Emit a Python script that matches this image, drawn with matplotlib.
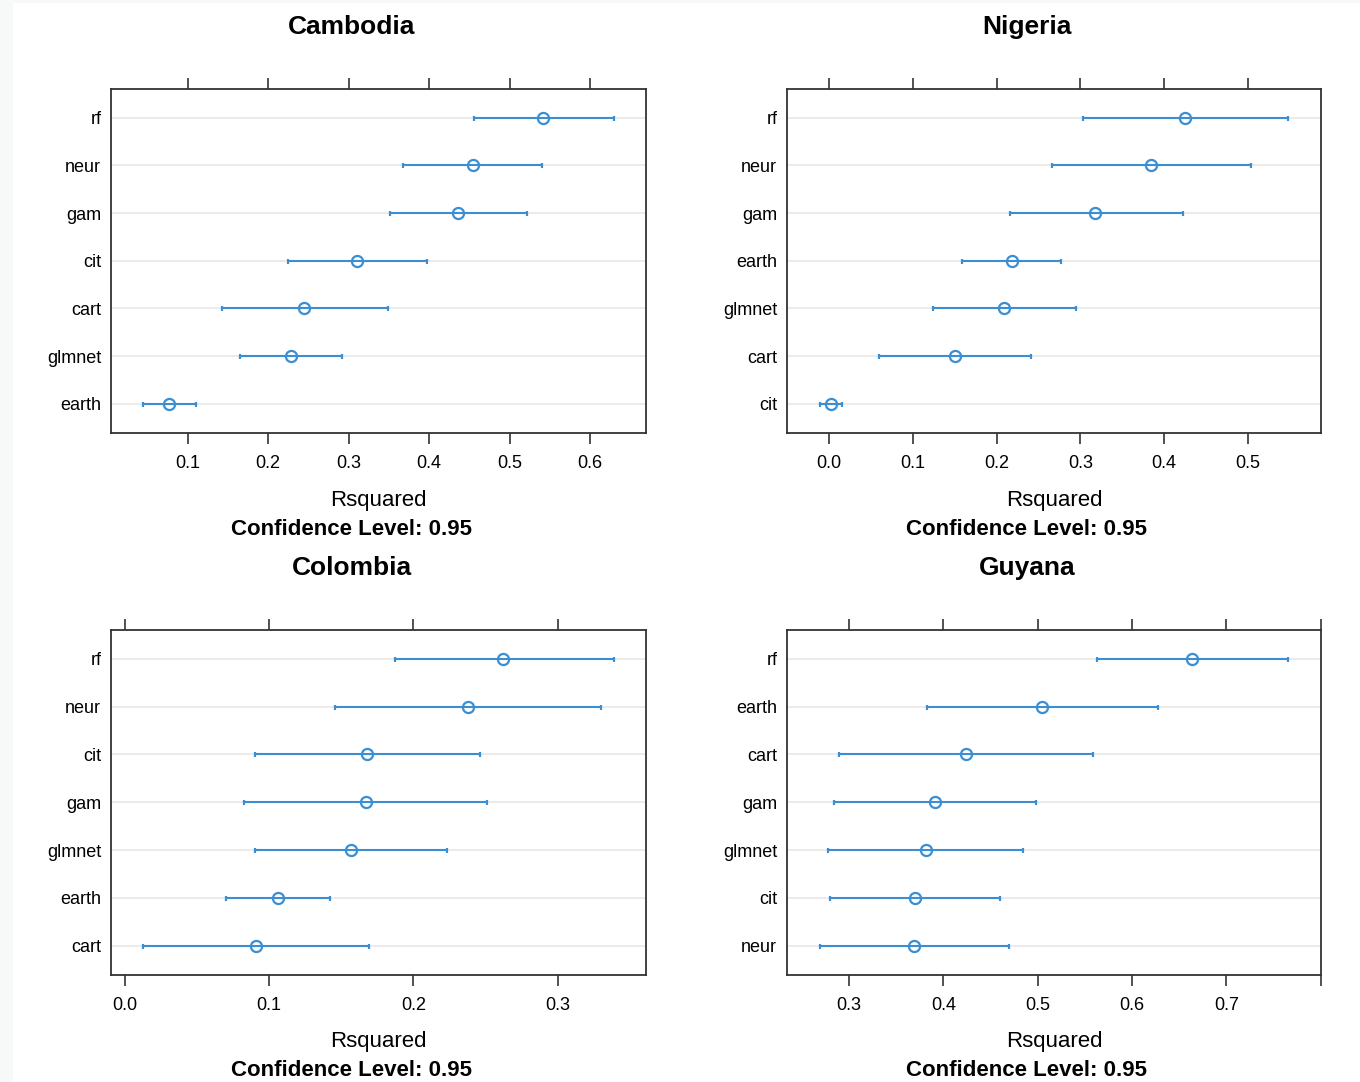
import matplotlib
matplotlib.use("Agg")
import matplotlib.pyplot as plt
from matplotlib.patches import Rectangle

matplotlib.rcParams['font.family'] = ['Liberation Sans', 'DejaVu Sans']

W, H = 1360, 1082
LINE_COL = "#3b8ed2"
GRID_COL = "#e8e8e8"

# ---- data (rows listed bottom -> top) ----
camb_models = ["earth", "glmnet", "cart", "cit", "gam", "neur", "rf"]
camb_mean   = [0.077, 0.228, 0.245, 0.311, 0.436, 0.454, 0.542]
camb_lo     = [0.045, 0.165, 0.143, 0.225, 0.352, 0.368, 0.456]
camb_hi     = [0.111, 0.292, 0.349, 0.397, 0.522, 0.540, 0.630]

nig_models = ["cit", "cart", "glmnet", "earth", "gam", "neur", "rf"]
nig_mean   = [0.003, 0.150, 0.209, 0.218, 0.318, 0.384, 0.425]
nig_lo     = [-0.011, 0.060, 0.124, 0.159, 0.216, 0.266, 0.303]
nig_hi     = [0.016, 0.241, 0.295, 0.277, 0.422, 0.503, 0.548]

col_models = ["cart", "earth", "glmnet", "gam", "cit", "neur", "rf"]
col_mean   = [0.091, 0.106, 0.157, 0.167, 0.168, 0.238, 0.262]
col_lo     = [0.013, 0.070, 0.090, 0.083, 0.090, 0.146, 0.187]
col_hi     = [0.169, 0.142, 0.223, 0.251, 0.246, 0.330, 0.339]

guy_models = ["neur", "cit", "glmnet", "gam", "cart", "earth", "rf"]
guy_mean   = [0.369, 0.370, 0.381, 0.391, 0.424, 0.505, 0.664]
guy_lo     = [0.269, 0.280, 0.278, 0.284, 0.289, 0.382, 0.563]
guy_hi     = [0.470, 0.460, 0.484, 0.498, 0.559, 0.628, 0.766]

countries = ["Cambodia", "Nigeria", "Colombia", "Guyana"]
xticks = [[0.1, 0.2, 0.3, 0.4, 0.5, 0.6],
          [0.0, 0.1, 0.2, 0.3, 0.4, 0.5],
          [0.0, 0.1, 0.2, 0.3],
          [0.3, 0.4, 0.5, 0.6, 0.7, 0.8]]
xlims = [(0.0049, 0.6695), (-0.050, 0.587), (-0.0094, 0.361), (0.234, 0.8005)]

panels = [(camb_models, camb_mean, camb_lo, camb_hi),
          (nig_models, nig_mean, nig_lo, nig_hi),
          (col_models, col_mean, col_lo, col_hi),
          (guy_models, guy_mean, guy_lo, guy_hi)]

# pixel boxes: left, top, right, bottom
boxes = [(111, 89, 646, 432.5), (787, 89, 1321, 432.5),
         (111, 630, 646, 974.5), (787, 630, 1321, 974.5)]


def px_axes(fig, box):
    l, t, r, b = box
    return fig.add_axes([l / W, 1 - b / H, (r - l) / W, (b - t) / H])


def plot_panel(ax, models, mean, lo, hi, ticks, xl):
    ys = list(range(len(models)))
    for y in ys:
        ax.axhline(y, color=GRID_COL, lw=1.2, zorder=0)
    xerr = [[m - l for m, l in zip(mean, lo)], [h - m for m, h in zip(mean, hi)]]
    ax.errorbar(mean, ys, xerr=xerr, fmt="o", color=LINE_COL, mfc="none",
                mec=LINE_COL, ms=8, mew=1.6, lw=1.5, capsize=1.8,
                capthick=1.5, zorder=3)
    ax.set_yticks(ys)
    ax.set_yticklabels(models)
    ax.set_ylim(-0.6, len(models) - 0.4)
    ax.set_xlim(*xl)
    ax.set_xticks(ticks)
    labels = ["%.1f" % t for t in ticks]
    if ticks[-1] > xl[1] - 0.005:
        labels[-1] = ""
    ax.set_xticklabels(labels)
    ax.tick_params(axis="x", which="both", direction="out", length=8,
                   width=1.1, top=True, labeltop=False, labelsize=13,
                   pad=8, color="#222222")
    ax.tick_params(axis="y", length=0, pad=7, labelsize=13)
    for s in ax.spines.values():
        s.set_color("#333333")
        s.set_linewidth(1.3)


def main():
    fig = plt.figure(figsize=(W / 100, H / 100), dpi=100)
    fig.patch.set_facecolor("#f6f9f7")
    fig.add_artist(Rectangle((13 / W, 0), 1, 1 - 3 / H, transform=fig.transFigure,
                             facecolor="white", edgecolor="none", zorder=-1))

    for i, (box, data) in enumerate(zip(boxes, panels)):
        ax = px_axes(fig, box)
        plot_panel(ax, *data, xticks[i], xlims[i])
        l, t, r, b = box
        xc = (l + r) / 2
        title_y = t - 62
        fig.text((xc - 27) / W, 1 - title_y / H, countries[i], ha="center",
                 va="center", fontsize=19, fontweight="bold")
        fig.text(xc / W, 1 - (b + 67.5) / H, "Rsquared", ha="center",
                 va="center", fontsize=16)
        fig.text((xc - 27) / W, 1 - (b + 96.5) / H, "Confidence Level: 0.95",
                 ha="center", va="center", fontsize=16, fontweight="bold")

    plt.savefig("out.png", dpi=100, facecolor=fig.get_facecolor())
    plt.close()


if __name__ == '__main__':
    main()
